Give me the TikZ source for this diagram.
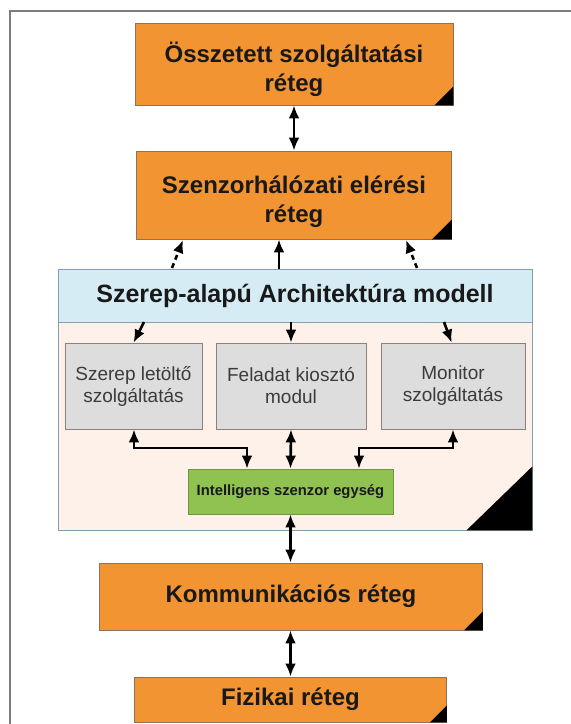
\documentclass[tikz,border=0pt]{standalone}
\usepackage{fontspec}
\setmainfont{Liberation Sans}
\usetikzlibrary{arrows.meta,calc}
\definecolor{orng}{RGB}{242,148,50}
\definecolor{orngline}{RGB}{140,115,95}
\definecolor{peach}{RGB}{253,241,233}
\definecolor{lblue}{RGB}{214,236,244}
\definecolor{lblueline}{RGB}{130,160,175}
\definecolor{lgray}{RGB}{221,221,221}
\definecolor{grayline}{RGB}{140,128,122}
\definecolor{lgreen}{RGB}{143,194,80}
\definecolor{greenline}{RGB}{110,150,60}
\definecolor{txt}{RGB}{25,25,25}
\definecolor{frame}{RGB}{125,125,125}
\tikzset{
  x=1pt, y=-1pt,
  layer/.style={draw=orngline, line width=0.8pt, fill=orng, inner sep=0pt, align=center,
     text=txt, font=\fontsize{24}{29}\selectfont\bfseries},
  layertext/.style={inner sep=0pt, align=center, text=txt, font=\fontsize{24}{29}\selectfont\bfseries},
  graybox/.style={draw=grayline, line width=0.8pt, fill=lgray, inner sep=0pt, align=center,
     text=txt!85, font=\fontsize{19}{22}\selectfont},
  conn/.style={line width=2.6pt, -{Latex[length=13pt,width=11pt]}},
  bconn/.style={line width=2.6pt, {Latex[length=13pt,width=11pt]}-{Latex[length=13pt,width=11pt]}},
  dconn/.style={conn, dash pattern=on 5pt off 4pt},
}
\newcommand{\corner}[2]{\fill[black] ($(#1.south east)+(0,-#2)$) -- (#1.south east) -- ($(#1.south east)+(-#2,0)$) -- cycle;}
\begin{document}
\begin{tikzpicture}
\useasboundingbox (0,0) rectangle (571,724);
\fill[white] (0,0) rectangle (571,724);
% frame
\draw[frame, line width=1.2pt] (10,724) -- (10,11) -- (571,11);

% layers
\node[layer, minimum width=318pt, minimum height=82pt] (l1) at (294,64) {};
\node[layertext] (l1t) at (294,69) {Összetett szolgáltatási\\réteg};
\node[layer, minimum width=315pt, minimum height=88pt] (l2) at (294,195) {};
\node[layertext] (l2t) at (294,202) {Szenzorhálózati elérési\\réteg};
\corner{l1}{19}
\corner{l2}{20}

% architecture box
\node[draw=lblueline, line width=0.8pt, fill=peach, minimum width=474pt, minimum height=261pt, inner sep=0pt] (arch) at (295,399.5) {};
\fill[black] ($(arch.south east)+(0,-64)$) -- (arch.south east) -- ($(arch.south east)+(-66,0)$) -- cycle;
\node[draw=lblueline, line width=0.8pt, fill=lblue, minimum width=474pt, minimum height=53pt, inner sep=0pt,
      text=txt, font=\fontsize{25}{30}\selectfont\bfseries] (hdr) at (295,295.5) {Szerep-alapú Architektúra modell};

\node[graybox, minimum width=137pt, minimum height=86pt] (gL) at (133.5,386) {Szerep letöltő\\szolgáltatás};
\node[graybox, minimum width=150pt, minimum height=86pt] (gM) at (291,386) {Feladat kiosztó\\modul};
\node[graybox, minimum width=144pt, minimum height=86pt] (gR) at (453,386) {Monitor\\szolgáltatás};

\node[draw=greenline, line width=0.8pt, fill=lgreen, minimum width=205pt, minimum height=45pt, inner sep=0pt,
      text=txt, font=\fontsize{14.8}{17}\selectfont\bfseries] (gG) at (290.5,491.5) {Intelligens szenzor egység};

\node[layer, minimum width=383pt, minimum height=67pt] (l3) at (291,596.5) {Kommunikációs réteg};
\node[layer, minimum width=312pt, minimum height=45pt] (l4) at (290.5,699.5) {Fizikai réteg};
\corner{l3}{19}
\corner{l4}{17}

% connectors
\draw[bconn] (l1.south) -- (l2.north);
\coordinate (mx) at (279,0);
\draw[conn] (hdr.north -| mx) -- (l2.south -| mx);
\coordinate (dlt) at (172,268);
\coordinate (dlh) at (183,240);
\coordinate (drt) at (417,268);
\coordinate (drh) at (406,240);
\draw[dconn] (dlt) -- (dlh);
\draw[dconn] (drt) -- (drh);

\coordinate (hl) at (144,322);
\coordinate (hr) at (444,322);
\draw[conn] (hl) -- ([xshift=69pt]gL.north west);
\draw[conn] (hdr.south -| gM.north) -- (gM.north);
\draw[conn] (hr) -- ([xshift=71pt]gR.north west);

\coordinate (cl) at (247,448);
\coordinate (cr) at (359,448);
\coordinate (gl) at (134,0);
\draw[bconn] (gL.south -| gl) |- (cl) -- (cl |- gG.north);
\draw[bconn] (gR.south) |- (cr) -- (cr |- gG.north);
\draw[bconn] (gM.south) -- (gG.north);

\draw[bconn] (gG.south) -- (l3.north -| gG.south);
\draw[bconn] (l3.south -| l4.north) -- (l4.north);
\end{tikzpicture}
\end{document}
